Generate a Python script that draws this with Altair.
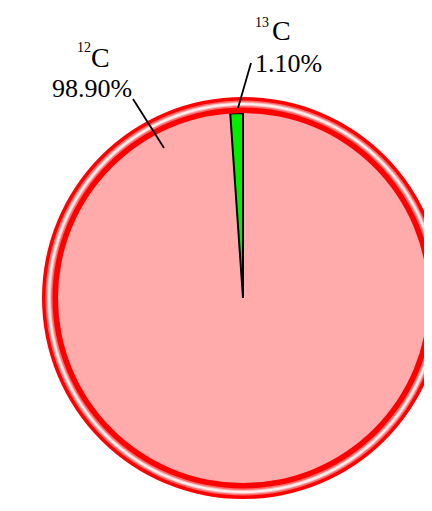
import altair as alt
import pandas as pd

# Data
isotopes = ["12C", "13C"]
percentages = [98.90, 1.10]
sup_labels = ["12", "13"]
main_labels = ["C", "C"]
pct_labels = ["98.90%", "1.10%"]

df = pd.DataFrame({
    "isotope": isotopes,
    "pct": percentages,
    "order": [0, 1],
})

# Geometry / style (chart coordinates; page offset 8px)
CX, CY = 235, 290
R_OUT = 201
RING = 16
R_PIE = R_OUT - RING
PINK = "#FFABAB"
GREEN = "#00EE00"
RED = "#FF0000"
FONT = "Liberation Serif"

one = pd.DataFrame({"k": [0]})
TWO_PI = 6.283185307

base_pie = alt.Chart(df).mark_arc(radius=R_PIE, strokeWidth=2, strokeJoin="miter").encode(
    theta=alt.Theta("pct:Q", stack=True),
    order=alt.Order("order:Q"),
    color=alt.Color("isotope:N", scale=alt.Scale(domain=isotopes, range=[PINK, GREEN]), legend=None),
    stroke=alt.Stroke("isotope:N", scale=alt.Scale(domain=isotopes, range=[PINK, "#000000"]), legend=None),
    x=alt.value(CX),
    y=alt.value(CY),
)

def ring(r_in, r_out, color):
    return alt.Chart(one).mark_arc(
        radius=r_out, radius2=r_in, theta=0, theta2=TWO_PI, color=color
    ).encode(x=alt.value(CX), y=alt.value(CY))

rings = [
    ring(R_PIE, R_OUT, RED),
    ring(R_PIE + 5.5, R_OUT - 3.5, "#FF6A6A"),
    ring(R_PIE + 7, R_OUT - 5, "#FFB8B8"),
    ring(R_PIE + 8, R_OUT - 6, "#FFF0F0"),
]

# Leader lines
lead12 = alt.Chart(one).mark_rule(color="black", strokeWidth=1.8).encode(
    x=alt.value(125), y=alt.value(91), x2=alt.value(156), y2=alt.value(140)
)
lead13 = alt.Chart(one).mark_rule(color="black", strokeWidth=1.8).encode(
    x=alt.value(243), y=alt.value(55), x2=alt.value(230), y2=alt.value(100)
)

def txt(text, x, y, size):
    return alt.Chart(one).mark_text(
        text=text, font=FONT, fontSize=size, align="left", baseline="alphabetic", color="black"
    ).encode(x=alt.value(x), y=alt.value(y))

labels = [
    txt(sup_labels[0], 69, 44, 14),
    txt(main_labels[0], 83, 59, 28),
    txt(pct_labels[0], 44, 89, 26),
    txt(sup_labels[1], 247, 19, 14),
    txt(main_labels[1], 264, 32, 28),
    txt(pct_labels[1], 247, 64, 26),
]

chart = alt.layer(base_pie, *rings, lead12, lead13, *labels).properties(
    width=416, height=495, padding=0, autosize=alt.AutoSizeParams(type="none")
).configure_view(stroke=None)

chart.save("out.html", embed_options={"renderer": "svg", "actions": False})
